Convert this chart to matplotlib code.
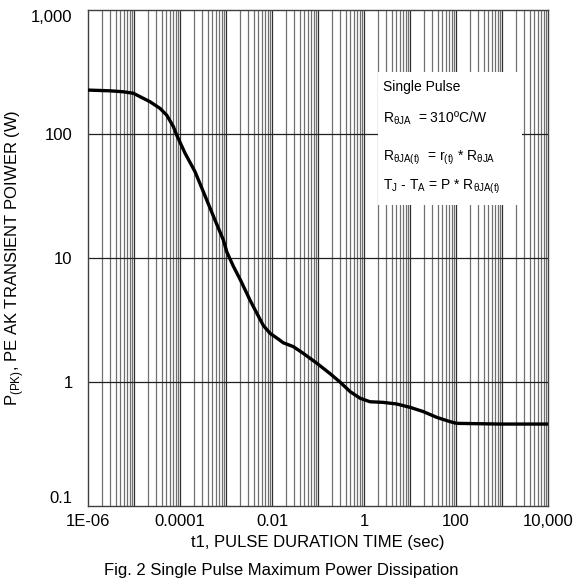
import matplotlib
matplotlib.use('Agg')
import matplotlib.pyplot as plt
from matplotlib.patches import Rectangle
from matplotlib.ticker import FixedLocator, NullLocator

plt.rcParams['font.family'] = ['Liberation Sans', 'DejaVu Sans']
plt.rcParams['mathtext.fontset'] = 'custom'
plt.rcParams['mathtext.rm'] = 'Liberation Sans'

# pulse width (s) vs peak transient power (W)
t_sec = [1e-6, 3.0e-6, 5.85e-6, 9.7e-6, 2.23e-5, 3.67e-5, 5.14e-5, 7.15e-5,
         8.47e-5, 1.29e-4, 2.12e-4, 3.21e-4, 5.77e-4, 8.75e-4, 1.04e-3,
         1.44e-3, 2.1e-3, 3.3e-3, 4.65e-3, 6.5e-3, 9.06e-3, 0.0137, 0.0176,
         0.029, 0.048, 0.0935, 0.182, 0.30, 0.50, 0.82, 1.35, 2.6, 5.1, 10,
         19.5, 38, 74, 103, 906, 1e4]
p_pk = [226, 223, 219, 213, 182, 161, 142, 115,
        98, 69.9, 49.7, 34.3, 20.2, 14.0, 11.2,
        8.6, 6.55, 4.6, 3.6, 2.85, 2.47, 2.22, 2.07,
        1.93, 1.70, 1.42, 1.17, 1.0, 0.836, 0.74, 0.693, 0.685, 0.665, 0.625,
        0.577, 0.519, 0.479, 0.464, 0.458, 0.458]

x_ticks = [1e-6, 1e-4, 1e-2, 1, 1e2, 1e4]
x_labels = ['1E-06', '0.0001', '0.01', '1', '100', '10,000']
y_ticks = [0.1, 1, 10, 100, 1000]
y_labels = ['0.1', '1', '10', '100', '1,000']

fig = plt.figure(figsize=(5.75, 5.84), dpi=100)
ax = fig.add_axes([88 / 575, 1 - 506 / 584, 460 / 575, 496 / 584])

ax.set_xscale('log')
ax.set_yscale('log')
ax.set_xlim(1e-6, 1e4)
ax.set_ylim(0.1, 1000)

# ========== grid ==========
for k in range(-6, 4):
    for m in range(2, 10):
        ax.axvline(m * 10.0 ** k, color='#707070', lw=0.9, zorder=1)
for k in range(-5, 4):
    ax.axvline(10.0 ** k, color='#303030', lw=0.9, zorder=1)
for v in [1, 10, 100]:
    ax.axhline(v, color='#202020', lw=0.9, zorder=1)

ax.plot(t_sec, p_pk, color='black', lw=2.4, zorder=5,
        solid_joinstyle='round')

ax.xaxis.set_major_locator(FixedLocator(x_ticks))
ax.set_xticklabels(x_labels)
ax.xaxis.set_minor_locator(NullLocator())
ax.yaxis.set_major_locator(FixedLocator(y_ticks))
ax.set_yticklabels(y_labels)
ax.yaxis.set_minor_locator(NullLocator())
ax.tick_params(axis='both', length=0, labelsize=12)
ax.tick_params(axis='x', pad=6)
ax.tick_params(axis='y', pad=11)
ylabs = ax.get_yticklabels()
ylabs[0].set_va('bottom')
ylabs[-1].set_va('top')
for s in ax.spines.values():
    s.set_color('#404040')
    s.set_linewidth(1.0)

# ========== note box ==========
ax.add_patch(Rectangle((378 / 575, 1 - 205 / 584), 144 / 575, 133 / 584,
                       transform=fig.transFigure, facecolor='white',
                       edgecolor='none', zorder=3))
notes = [
    (87, 'Single Pulse'),
    (118, r'R$_{\mathregular{θJA}}$  = 310ºC/W'),
    (158, r'R$_{\mathregular{θJA(t)}}$  = r$_{\mathregular{(t)}}$ * R$_{\mathregular{θJA}}$'),
    (187, r'T$_{\mathregular{J}}$ - T$_{\mathregular{A}}$ = P * R$_{\mathregular{θJA(t)}}$'),
]
for yy, s in notes:
    fig.text(383 / 575, 1 - yy / 584, s, fontsize=10, ha='left',
             va='center', zorder=6)

ax.set_xlabel('t1, PULSE DURATION TIME (sec)', fontsize=12, labelpad=4)
ax.set_ylabel(r'P$_{\mathregular{(PK)}}$, PE AK TRANSIENT POIWER (W)',
              fontsize=12, labelpad=4)
fig.text(281 / 575, 1 - 570 / 584,
         'Fig. 2 Single Pulse Maximum Power Dissipation',
         fontsize=12, ha='center', va='center')

fig.savefig('out.png', dpi=100, facecolor='white')
